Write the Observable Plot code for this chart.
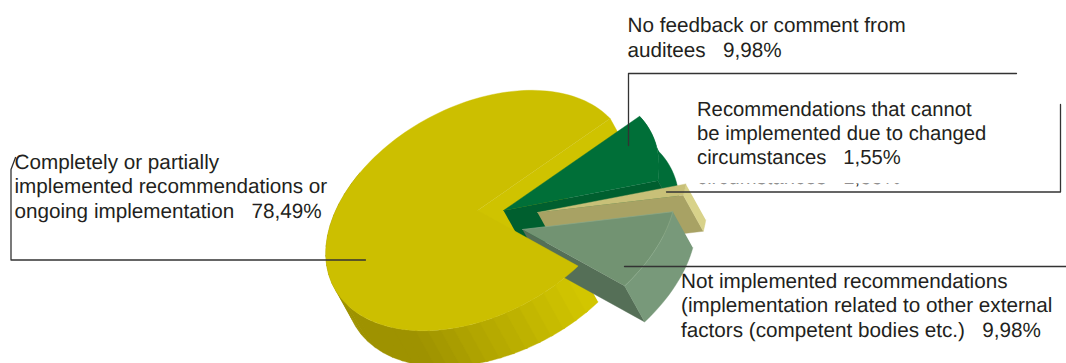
<!DOCTYPE html>
<html>
<head>
<meta charset="utf-8">
<script src="https://cdn.jsdelivr.net/npm/d3@7"></script>
<script src="https://cdn.jsdelivr.net/npm/@observablehq/plot@0.6"></script>
<style>
  html, body { margin: 0; padding: 0; background: #fff; }
  svg { display: block; }
</style>
</head>
<body>
<div id="chart"></div>
<script>
// Audit follow-up results, as shares of all recommendations (percent).
const categories = ["noFeedback", "changed", "notImplemented", "implemented"];
const values = [9.98, 1.55, 9.98, 78.49];
const labelText = [
  "No feedback or comment from\nauditees",
  "Recommendations that cannot\nbe implemented due to changed\ncircumstances",
  "Not implemented recommendations\n(implementation related to other external\nfactors (competent bodies etc.)",
  "Completely or partially\nimplemented recommendations or\nongoing implementation"
];

// Slice colours: top face, outer rim, cut wall.
const topColors = ["#006f38", "#c8c078", "#729372", "#ccbf00"];
const rimColors = ["#006d38", "#d8d28a", "#78997a", "#d2c600"];
const wallColors = ["#005f2f", "#a8a264", "#556f57", "#cfc300"];

// Exploded position of each slice's apex on the page.
const apexX = [503, 537, 522, 477];
const apexY = [210, 212, 229, 210];
const radiusScale = [1.01, 0.97, 1, 0.985];

// Oblique projection of the pie disc and its extrusion.
const axisX = [154, 0];
const axisY = [-43.5, 114];
const depth = [20, 36];
const startAngle = -29 * Math.PI / 180;

const width = 1066, height = 363;

const arcs = d3.pie().sort(null).value(d => d)
  .startAngle(startAngle).endAngle(startAngle + 2 * Math.PI)(values);

const project = (i, t, r = radiusScale[i]) => [
  apexX[i] + r * (axisX[0] * Math.cos(t) + axisX[1] * Math.sin(t)),
  apexY[i] + r * (axisY[0] * Math.cos(t) + axisY[1] * Math.sin(t))
];
const sink = ([x, y]) => [x + depth[0], y + depth[1]];

function arcPoints(i, a, b) {
  const n = Math.max(2, Math.ceil((b - a) / (Math.PI / 90)));
  return d3.range(n + 1).map(k => project(i, a + (b - a) * k / n));
}
const topFace = i => [[apexX[i], apexY[i]], ...arcPoints(i, arcs[i].startAngle, arcs[i].endAngle)];
const rimFace = (i, a, b) => {
  const p = arcPoints(i, a, b);
  return [...p, ...p.slice().reverse().map(sink)];
};
const wallFace = (i, t) => {
  const apex = [apexX[i], apexY[i]], edge = project(i, t);
  return [apex, edge, sink(edge), sink(apex)];
};

// One filled outline drawn by Plot's line mark.
const face = (pts, fill, extra = {}) => Plot.line(pts, {
  x: d => d[0], y: d => d[1], fill, stroke: fill, strokeWidth: 0.4, ...extra
});

// The big slice's rim darkens in steps as it turns away from the light.
const rimShade = d3.scaleLinear().domain([50, 112]).range(["#d2c600", "#9e9200"]).clamp(true);
const big = 3;
const rimStep = 5 * Math.PI / 180;
const bigRim = d3.range(arcs[big].startAngle, Math.PI + 0.6, rimStep).map(a =>
  face(rimFace(big, a, a + rimStep * 1.15), rimShade(a * 180 / Math.PI))
).reverse();

const formatShare = v => v.toFixed(2).replace(".", ",") + "%";
const labelRows = categories.map((c, i) => ({
  text: `${labelText[i]}   ${formatShare(values[i])}`
}));
const labelX = [627, 696.5, 680.5, 14];
const labelY = [14, 98, 269.7, 150.5];
const labelSize = [20.7, 20.25, 20.7, 20.7];

const ink = "#231f20";
const lineColor = "#333333";
const leaders = [
  [[628, 145], [628, 73], [1016, 73]],
  [[666, 191.5], [1060, 191.5], [1060, 104]],
  [[624, 266], [1066, 266]],
  [[15, 157], [10.5, 169], [10.5, 259.5], [365, 259.5]]
];

const green = 0, tan = 1, sage = 2;

const marks = [
  // Back of the large slice, seen through the gap.
  face(wallFace(big, arcs[big].endAngle), wallColors[big]),
  ...bigRim,

  // Small exploded slices, back to front.
  face(rimFace(green, arcs[green].startAngle, arcs[green].endAngle), rimColors[green]),
  face(wallFace(green, arcs[green].endAngle), wallColors[green]),
  face(topFace(green), topColors[green]),

  face(wallFace(tan, arcs[tan].endAngle), wallColors[tan]),
  face(rimFace(tan, arcs[tan].startAngle, arcs[tan].endAngle), rimColors[tan]),
  face(topFace(tan), topColors[tan]),

  face(wallFace(sage, arcs[sage].endAngle), wallColors[sage]),
  face(rimFace(sage, arcs[sage].startAngle, arcs[sage].endAngle), rimColors[sage]),
  face(topFace(sage), topColors[sage], {stroke: "#8aa98a", strokeWidth: 0.7}),

  // Large slice's top face lies over the walls it overlaps.
  face(topFace(big), topColors[big]),

  // Clipped copy of the last line under the white label panel.
  Plot.text([{text: "circumstances   " + formatShare(values[tan])}], {
    x: () => labelX[tan], y: () => labelY[tan] + 71, text: "text",
    textAnchor: "start", lineAnchor: "top", fontSize: labelSize[tan], fill: ink
  }),
  Plot.rect([0], {x1: () => 688, x2: () => 1052, y1: () => 92, y2: () => 183.5, fill: "white"}),

  // Leader lines.
  ...leaders.map(l => Plot.line(l, {x: d => d[0], y: d => d[1], stroke: lineColor, strokeWidth: 1.3})),

  // Slice labels.
  Plot.text(labelRows, {
    x: (d, i) => labelX[i], y: (d, i) => labelY[i], text: "text",
    textAnchor: "start", lineAnchor: "top", lineHeight: 1.19,
    fontSize: (d, i) => labelSize[i], fill: ink
  })
];

const chart = Plot.plot({
  width, height,
  margin: 0,
  x: {domain: [0, width], range: [0, width], axis: null},
  y: {domain: [0, height], range: [0, height], axis: null},
  style: {
    fontFamily: "'Liberation Sans', Arial, sans-serif",
    background: "#fff",
    whiteSpace: "pre",
    textRendering: "geometricPrecision"
  },
  marks
});
document.getElementById("chart").append(chart);
</script>
</body>
</html>
